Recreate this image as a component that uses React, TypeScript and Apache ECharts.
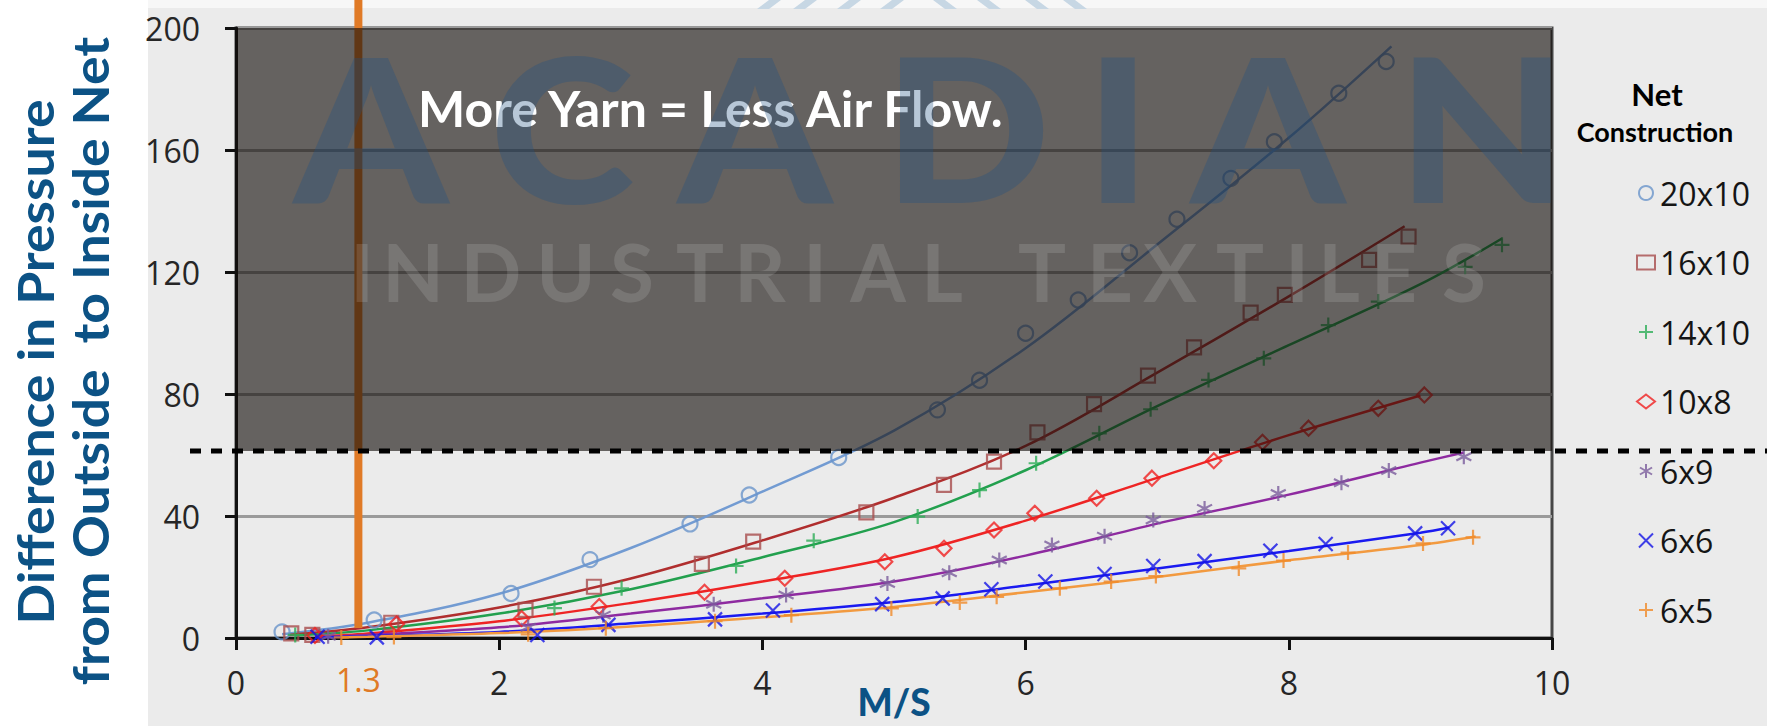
import React, { useEffect, useRef } from 'react';
import * as echarts from 'echarts';

// ---------------- data ----------------
const seriesNames = ['20x10', '16x10', '14x10', '10x8', '6x9', '6x6', '6x5'];

const markerColors = ['#6A95CB', '#A84C4C', '#2DAE58', '#F02020', '#7A5C9C', '#1414E6', '#F08A28'];
const lineColors = ['#729BD2', '#B02E2E', '#22A04E', '#EE2424', '#8E2AA0', '#1A1AF0', '#F29A40'];

// measured points (x = M/S, y = pressure difference)
const pts20x10 = [[0.35, 2.0], [1.05, 5.9], [2.09, 14.6], [2.69, 25.7], [3.45, 37.4], [3.90, 46.9], [4.58, 59.2], [5.33, 74.8], [5.65, 84.5], [6.00, 99.9], [6.40, 110.8], [6.79, 126.3], [7.15, 137.3], [7.56, 150.7], [7.89, 162.7], [8.38, 178.6], [8.74, 189.0]];
const pts16x10 = [[0.42, 1.5], [0.58, 1.0], [1.18, 5.0], [2.20, 9.2], [2.72, 16.8], [3.54, 24.3], [3.93, 31.6], [4.79, 41.2], [5.38, 50.2], [5.76, 57.8], [6.09, 67.4], [6.52, 76.7], [6.93, 86.0], [7.28, 95.3], [7.71, 106.7], [7.97, 112.5], [8.61, 124.0], [8.91, 131.6]];
const pts14x10 = [[0.45, 1.0], [2.42, 9.8], [2.93, 16.3], [3.80, 23.6], [4.39, 31.9], [5.18, 39.8], [5.65, 48.5], [6.08, 57.3], [6.56, 67.1], [6.95, 75.0], [7.39, 84.6], [7.81, 91.7], [8.30, 102.6], [8.68, 110.3], [9.34, 121.7], [9.62, 128.9]];
const pts10x8 = [[0.60, 0.8], [1.22, 4.6], [2.17, 6.4], [2.76, 10.3], [3.56, 15.0], [4.17, 19.6], [4.93, 25.0], [5.38, 29.4], [5.76, 35.4], [6.07, 40.9], [6.54, 45.8], [6.96, 52.4], [7.43, 58.1], [7.80, 64.2], [8.15, 68.8], [8.68, 75.3], [9.03, 79.7]];
const pts6x9 = [[0.70, 0.6], [2.22, 3.5], [2.79, 7.5], [3.63, 11.1], [4.18, 14.1], [4.95, 17.9], [5.42, 21.4], [5.80, 25.6], [6.20, 30.5], [6.60, 33.4], [6.97, 38.7], [7.36, 42.5], [7.92, 47.4], [8.40, 50.9], [8.76, 54.9], [9.33, 59.4]];
const pts6x6 = [[0.62, 0.4], [1.07, 0.2], [2.29, 1.0], [2.83, 4.3], [3.64, 6.1], [4.08, 9.0], [4.91, 11.1], [5.37, 13.0], [5.74, 16.0], [6.15, 18.5], [6.60, 21.0], [6.97, 23.6], [7.36, 25.2], [7.86, 28.6], [8.28, 30.8], [8.96, 34.3], [9.21, 36.0]];
const pts6x5 = [[0.80, 0.2], [1.20, 0.3], [2.22, 1.2], [2.81, 3.2], [3.64, 5.5], [4.22, 7.5], [4.98, 9.7], [5.50, 11.6], [5.78, 13.5], [6.26, 16.3], [6.65, 18.5], [6.99, 20.3], [7.62, 22.8], [7.96, 25.4], [8.45, 28.0], [9.02, 31.0], [9.40, 33.0]];

// trend curves
const fit20x10 = [[0.35, 1.2], [1, 5], [2, 14.5], [3, 29.5], [4, 48], [5, 68], [6, 95], [7, 129], [8, 164], [8.78, 194]];
const fit16x10 = [[0.4, 1], [1, 3.5], [2, 10], [3, 19.5], [4, 32], [5, 46], [6, 63], [7, 87], [8, 112], [8.88, 135]];
const fit14x10 = [[0.45, 0.8], [1, 2.5], [2, 8], [3, 16], [4, 26.5], [5, 38], [6, 55], [7, 76], [8, 96], [9, 116], [9.62, 131]];
const fit10x8 = [[0.6, 0.5], [1, 1.5], [2, 5.5], [3, 11.5], [4, 18.5], [5, 26.5], [6, 38.5], [7, 52.5], [8, 66.5], [9, 79.5]];
const fit6x9 = [[0.7, 0.3], [1, 1], [2, 3.5], [3, 8], [4, 13], [5, 18.5], [6, 27], [7, 37.5], [8, 47], [9, 57.5], [9.33, 60.8]];
const fit6x6 = [[0.6, 0.2], [1, 0.6], [2, 2], [3, 4.8], [4, 8], [5, 11.8], [6, 17.2], [7, 22.8], [8, 28.5], [9, 34.5], [9.22, 36.2]];
const fit6x5 = [[0.8, 0.2], [1, 0.4], [2, 1.6], [3, 3.8], [4, 6.8], [5, 10.2], [6, 15], [7, 20], [8, 25.5], [9, 30.5], [9.42, 33.3]];

const pointSets = [pts20x10, pts16x10, pts14x10, pts10x8, pts6x9, pts6x6, pts6x5];
const fitSets = [fit20x10, fit16x10, fit14x10, fit10x8, fit6x9, fit6x6, fit6x5];

const thresholdValue = 61.3; // dashed line
const speedMarkerX = 0.93; // orange vertical line position
const speedMarkerLabel = '1.3';

const xMin = 0, xMax = 10, xStep = 2;
const yMin = 0, yMax = 200, yStep = 40;

const yTitleLines = ['Difference in Pressure', 'from Outside  to Inside Net'];
const xTitle = 'M/S';
const legendTitle = ['Net', 'Construction'];
const noteText = 'More Yarn = Less Air Flow.';
const brandWord = 'ACADIAN';
const brandSub = 'INDUSTRIAL TEXTILES';

// ---------------- styling ----------------
const SYMBOLS = [
  'circle',
  'rect',
  'path://M0,5L10,5M5,0L5,10',
  'diamond',
  'path://M5,0L5,10M0.67,2.5L9.33,7.5M9.33,2.5L0.67,7.5',
  'path://M0,0L10,10M10,0L0,10',
  'path://M0,5L10,5M5,0L5,10',
];
const SYMBOL_SIZES = [15, 14, 15, 15, 15, 14, 15];

const BLUE = '#0C5285';
const ORANGE = '#E07A26';
const GRID = { left: 236, right: 215, top: 28, bottom: 88 };

const brandCenters = [371, 562, 755, 967, 1118, 1268, 1482];
const subCenters = [362, 413, 491, 566, 632, 700, 760, 815, 878, 942, -1, 1042, 1110, 1170, 1240, 1297, 1339, 1394, 1464];

export default function App() {
  const ref = useRef<HTMLDivElement>(null);

  useEffect(() => {
    document.body.style.margin = '0';
    const chart = echarts.init(ref.current!, undefined, { renderer: 'svg' });

    const series: any[] = [];
    seriesNames.forEach((name, i) => {
      series.push({
        name: name + ' trend',
        type: 'line',
        data: fitSets[i],
        smooth: 0.35,
        symbol: 'none',
        silent: true,
        z: 2,
        lineStyle: { color: lineColors[i], width: 2.5 },
      });
    });
    seriesNames.forEach((name, i) => {
      series.push({
        name,
        type: 'scatter',
        data: pointSets[i],
        symbol: SYMBOLS[i],
        symbolSize: SYMBOL_SIZES[i],
        z: 3,
        itemStyle: { color: 'rgba(0,0,0,0)', borderColor: markerColors[i], borderWidth: 2.2 },
      });
    });

    const base: any = {
      animation: false,
      backgroundColor: '#ffffff',
      grid: { ...GRID, show: true, containLabel: false, outerBoundsMode: 'none', borderColor: '#464646', borderWidth: 3, backgroundColor: 'rgba(0,0,0,0)' },
      xAxis: {
        type: 'value', min: xMin, max: xMax, interval: xStep,
        axisLine: { show: true, onZero: false, lineStyle: { color: '#111', width: 3 } },
        axisTick: { show: true, length: 12, lineStyle: { color: '#111', width: 3 } },
        splitLine: { show: false },
        axisLabel: { fontSize: 32, fontFamily: 'Open Sans', color: '#262626', margin: 28 },
        name: xTitle, nameLocation: 'middle', nameGap: 45, nameMoveOverlap: false,
        nameTextStyle: { fontSize: 37, fontWeight: 900, fontFamily: 'Lato', color: BLUE },
      },
      yAxis: {
        type: 'value', min: yMin, max: yMax, interval: yStep,
        axisLine: { show: true, onZero: false, lineStyle: { color: '#111', width: 3 } },
        axisTick: { show: true, length: 11, lineStyle: { color: '#111', width: 3 } },
        splitLine: { show: true, lineStyle: { color: '#9a9a9a', width: 3 } },
        axisLabel: { fontSize: 32, fontFamily: 'Open Sans', color: '#262626', margin: 36 },
      },
      legend: {
        data: seriesNames,
        orient: 'vertical',
        left: 1631,
        top: 170,
        itemWidth: 18,
        itemHeight: 14,
        itemGap: 33.5,
        textStyle: { fontSize: 32, fontFamily: 'Open Sans', color: '#151515', lineHeight: 36 },
      },
      series,
    };
    chart.setOption(base);

    const yThr = chart.convertToPixel({ yAxisIndex: 0 }, thresholdValue) as number;
    const yTop = chart.convertToPixel({ yAxisIndex: 0 }, yMax) as number;
    const yZero = chart.convertToPixel({ yAxisIndex: 0 }, yMin) as number;
    const xLeft = chart.convertToPixel({ xAxisIndex: 0 }, xMin) as number;
    const xRight = chart.convertToPixel({ xAxisIndex: 0 }, xMax) as number;
    const xMark = chart.convertToPixel({ xAxisIndex: 0 }, speedMarkerX) as number;

    const graphics: any[] = [];
    // page background
    graphics.push({ type: 'rect', z: -20, silent: true, shape: { x: 148, y: 3, width: 1767 - 148, height: 726 - 3 }, style: { fill: '#EBEBEB' } });
    graphics.push({ type: 'rect', z: -19, silent: true, shape: { x: 148, y: 0, width: 1767 - 148, height: 8 }, style: { fill: '#F7F7F7' } });
    // logo chevrons at top
    const chevL = [757, 793, 837, 880];
    chevL.forEach((a) => {
      graphics.push({ type: 'polygon', z: -18, silent: true, shape: { points: [[a, 9], [a + 12, 9], [a + 24, 0], [a + 12, 0]] }, style: { fill: '#C7D7E4' } });
    });
    const chevR = [933, 977, 1025, 1063];
    chevR.forEach((a) => {
      graphics.push({ type: 'polygon', z: -18, silent: true, shape: { points: [[a, 0], [a + 12, 0], [a + 24, 9], [a + 12, 9]] }, style: { fill: '#C7D7E4' } });
    });
    // orange speed marker line (below overlay)
    graphics.push({ type: 'line', z: 40, silent: true, shape: { x1: xMark, y1: 0, x2: xMark, y2: yZero - 10 }, style: { stroke: ORANGE, lineWidth: 8 } });
    graphics.push({ type: 'text', z: 40, silent: true, x: xMark, y: yZero + 41, style: { text: speedMarkerLabel, fill: ORANGE, fontSize: 32, fontFamily: 'Open Sans', align: 'center', verticalAlign: 'middle' } });
    // dark overlay above threshold
    graphics.push({ type: 'rect', z: 50, silent: true, shape: { x: xLeft, y: yTop, width: xRight - xLeft, height: yThr - yTop }, style: { fill: 'rgba(20,14,12,0.62)' } });
    // note text
    graphics.push({ type: 'text', z: 52, silent: true, x: 418, y: 108, style: { text: noteText, fill: '#FFFFFF', fontSize: 50, fontWeight: 'bold', fontFamily: 'Lato', align: 'left', verticalAlign: 'middle' } });
    // watermark
    brandWord.split('').forEach((ch, i) => {
      graphics.push({ type: 'text', z: 54, silent: true, x: brandCenters[i], y: 126, scaleX: 1.1, style: { text: ch, fill: 'rgba(30,80,130,0.32)', fontSize: 200, fontWeight: 900, fontFamily: 'Lato', align: 'center', verticalAlign: 'middle' } });
    });
    brandSub.split('').forEach((ch, i) => {
      if (ch === ' ') return;
      graphics.push({ type: 'text', z: 54, silent: true, x: subCenters[i], y: 271, style: { text: ch, fill: 'rgba(255,255,255,0.13)', fontSize: 80, fontWeight: 'bold', fontFamily: 'Lato', align: 'center', verticalAlign: 'middle' } });
    });
    // dashed threshold line
    graphics.push({ type: 'line', z: 60, silent: true, shape: { x1: 190, y1: yThr, x2: 1767, y2: yThr }, style: { stroke: '#000', lineWidth: 5, lineDash: [11, 10] } });
    // y-axis title
    graphics.push({ type: 'text', z: 10, silent: true, x: 35, y: 362, rotation: Math.PI / 2, scaleX: 1.07, style: { text: yTitleLines[0], fill: BLUE, fontSize: 50, fontWeight: 'bold', fontFamily: 'Lato', align: 'center', verticalAlign: 'middle' } });
    graphics.push({ type: 'text', z: 10, silent: true, x: 90, y: 361, rotation: Math.PI / 2, scaleX: 1.07, style: { text: yTitleLines[1], fill: BLUE, fontSize: 50, fontWeight: 'bold', fontFamily: 'Lato', align: 'center', verticalAlign: 'middle' } });
    // legend title
    graphics.push({ type: 'text', z: 10, silent: true, x: 1657, y: 94, style: { text: legendTitle[0], fill: '#000', fontSize: 31, fontWeight: 'bold', fontFamily: 'Lato', align: 'center', verticalAlign: 'middle' } });
    graphics.push({ type: 'text', z: 10, silent: true, x: 1655, y: 131, style: { text: legendTitle[1], fill: '#000', fontSize: 27, fontWeight: 'bold', fontFamily: 'Lato', align: 'center', verticalAlign: 'middle' } });

    chart.setOption({ graphic: { elements: graphics } });

    return () => chart.dispose();
  }, []);

  return <div ref={ref} style={{ position: 'absolute', left: 0, top: 0, width: 1767, height: 726 }} />;
}
